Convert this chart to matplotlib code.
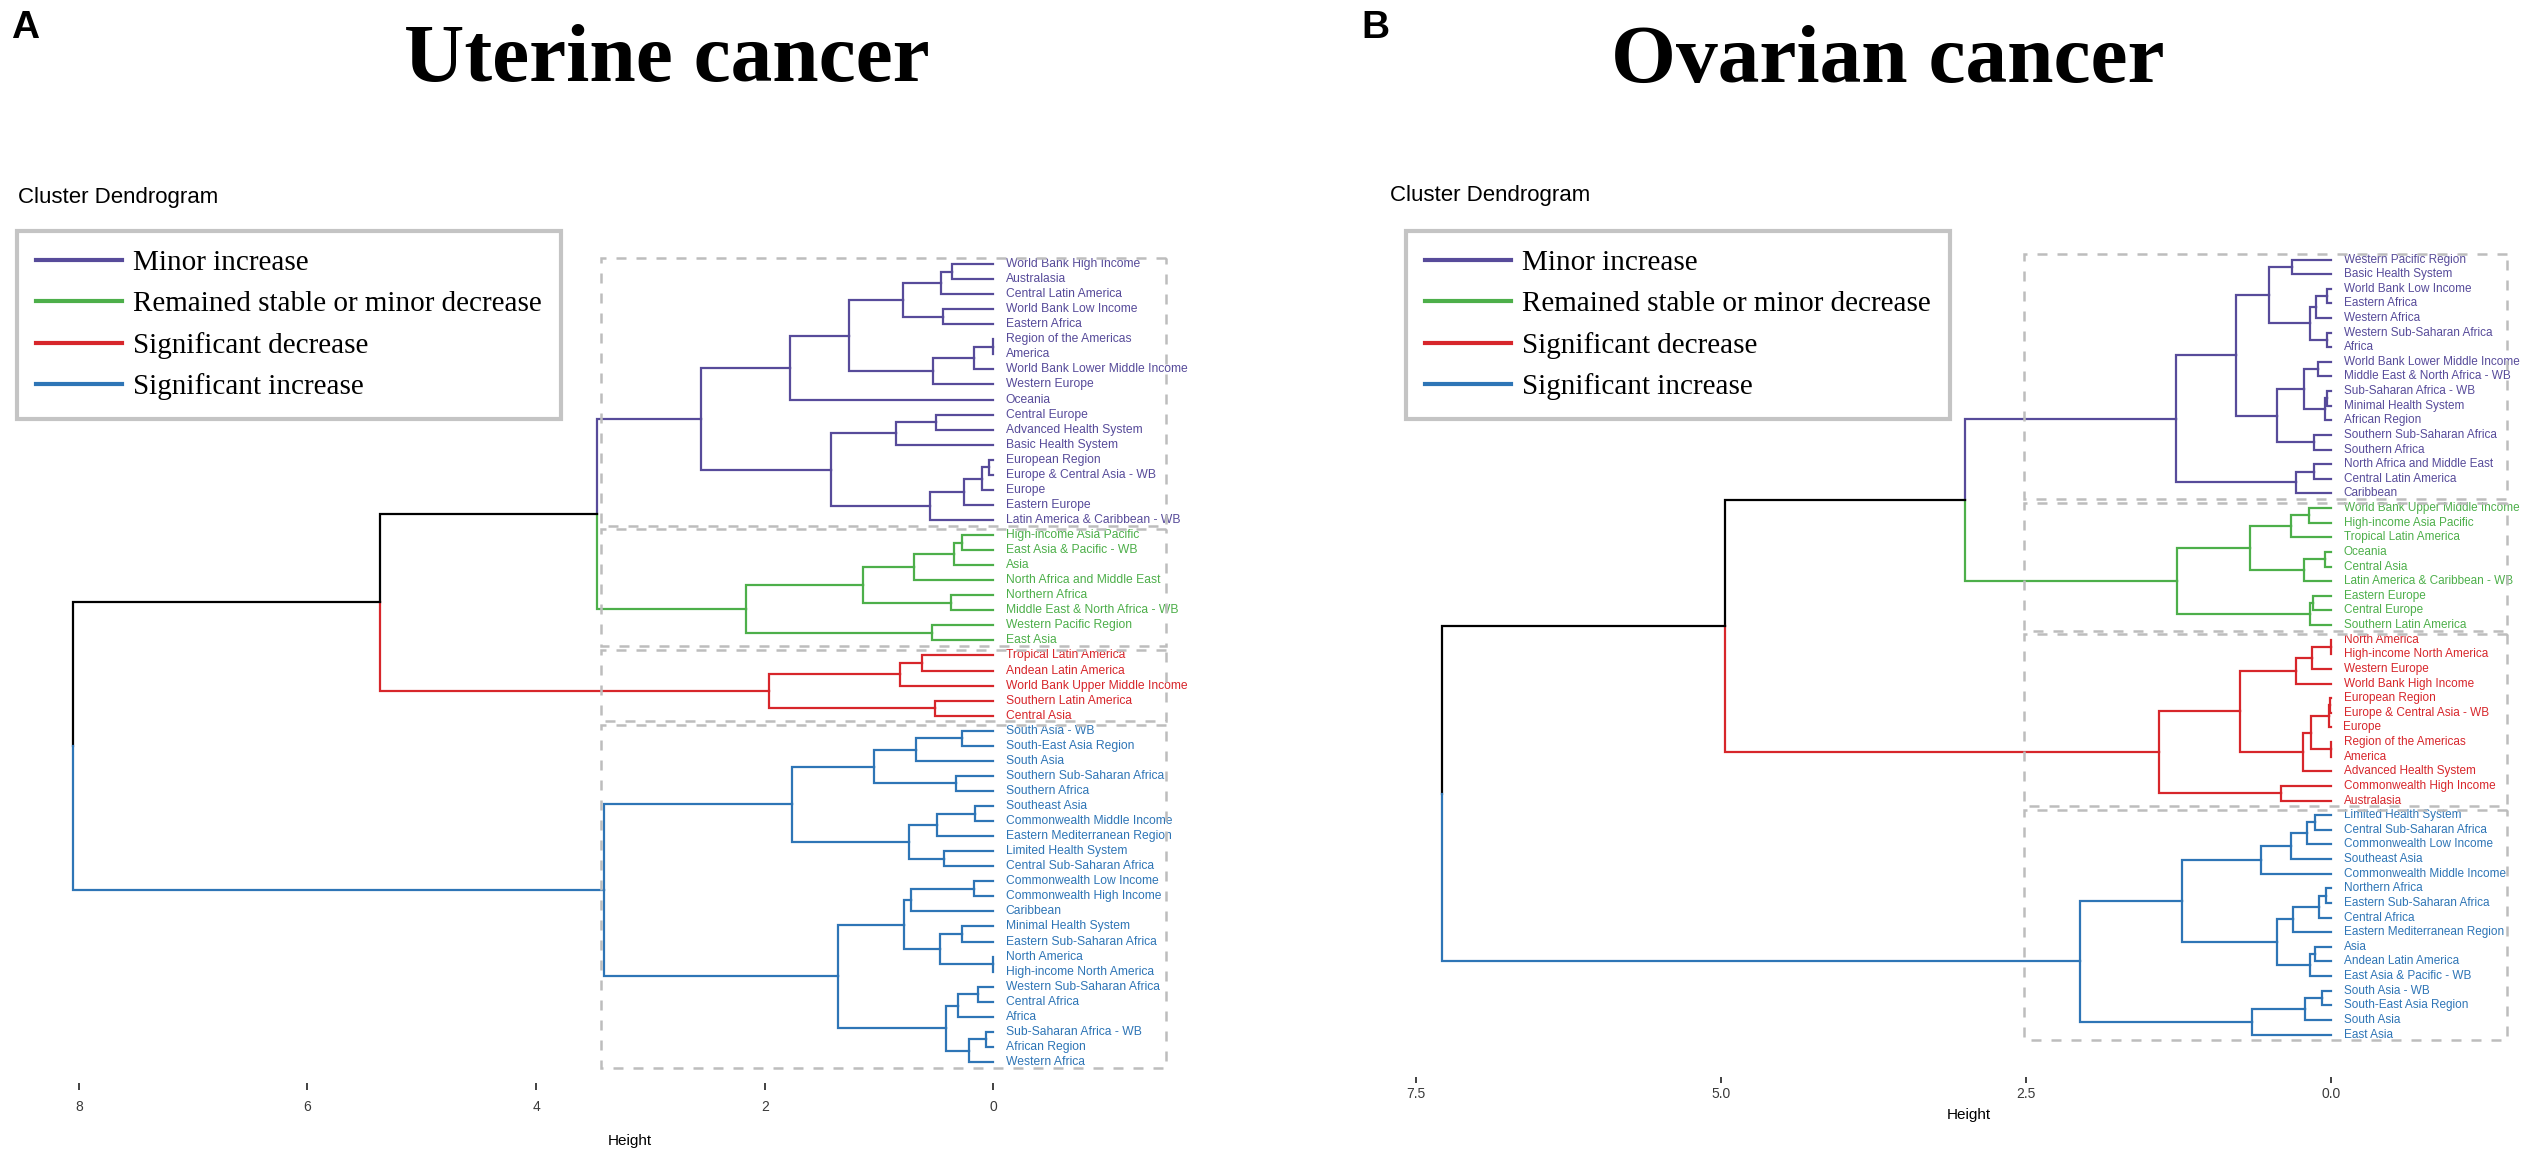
import matplotlib.pyplot as plt
from matplotlib.lines import Line2D
from matplotlib.patches import Rectangle

W, H = 2531, 1162

cluster_names = ["Minor increase", "Remained stable or minor decrease",
                 "Significant decrease", "Significant increase"]
cluster_colors = ["#574b9a", "#4daf4a", "#d7262b", "#2e75b6"]

# ---- Uterine cancer: trees as (height, upper, lower), leaves are names
ut_minor = (2.56,
            (1.78,
             (1.26,
              (0.79,
               (0.46, (0.36, "World Bank High Income", "Australasia"), "Central Latin America"),
               (0.44, "World Bank Low Income", "Eastern Africa")),
              (0.53,
               (0.17, (0.005, "Region of the Americas", "America"), "World Bank Lower Middle Income"),
               "Western Europe")),
             "Oceania"),
            (1.42,
             (0.85, (0.50, "Central Europe", "Advanced Health System"), "Basic Health System"),
             (0.55,
              (0.26, (0.10, (0.04, "European Region", "Europe & Central Asia - WB"), "Europe"),
               "Eastern Europe"),
              "Latin America & Caribbean - WB")))
ut_stable = (2.16,
             (1.14,
              (0.69,
               (0.34, (0.27, "High-income Asia Pacific", "East Asia & Pacific - WB"), "Asia"),
               "North Africa and Middle East"),
              (0.37, "Northern Africa", "Middle East & North Africa - WB")),
             (0.54, "Western Pacific Region", "East Asia"))
ut_decrease = (1.96,
               (0.82, (0.62, "Tropical Latin America", "Andean Latin America"),
                "World Bank Upper Middle Income"),
               (0.51, "Southern Latin America", "Central Asia"))
ut_increase = (3.41,
               (1.76,
                (1.04,
                 (0.68, (0.27, "South Asia - WB", "South-East Asia Region"), "South Asia"),
                 (0.33, "Southern Sub-Saharan Africa", "Southern Africa")),
                (0.74,
                 (0.49, (0.16, "Southeast Asia", "Commonwealth Middle Income"),
                  "Eastern Mediterranean Region"),
                 (0.43, "Limited Health System", "Central Sub-Saharan Africa"))),
               (1.36,
                (0.78,
                 (0.72, (0.17, "Commonwealth Low Income", "Commonwealth High Income"), "Caribbean"),
                 (0.47, (0.27, "Minimal Health System", "Eastern Sub-Saharan Africa"),
                  (0.005, "North America", "High-income North America"))),
                (0.41,
                 (0.31, (0.13, "Western Sub-Saharan Africa", "Central Africa"), "Africa"),
                 (0.21, (0.06, "Sub-Saharan Africa - WB", "African Region"), "Western Africa"))))
ut_top = (8.05, (5.37, (3.47, 0, 1), 2), 3)

# ---- Ovarian cancer
ov_minor = (1.27,
            (0.78,
             (0.51,
              (0.32, "Western Pacific Region", "Basic Health System"),
              (0.17,
               (0.12, (0.03, "World Bank Low Income", "Eastern Africa"), "Western Africa"),
               (0.03, "Western Sub-Saharan Africa", "Africa"))),
             (0.44,
              (0.22,
               (0.11, "World Bank Lower Middle Income", "Middle East & North Africa - WB"),
               (0.05, (0.03, "Sub-Saharan Africa - WB", "Minimal Health System"), "African Region")),
              (0.14, "Southern Sub-Saharan Africa", "Southern Africa"))),
            (0.29, (0.14, "North Africa and Middle East", "Central Latin America"), "Caribbean"))
ov_stable = (1.26,
             (0.66,
              (0.33, (0.18, "World Bank Upper Middle Income", "High-income Asia Pacific"),
               "Tropical Latin America"),
              (0.22, (0.05, "Oceania", "Central Asia"), "Latin America & Caribbean - WB")),
             (0.17, (0.15, "Eastern Europe", "Central Europe"), "Southern Latin America"))
ov_decrease = (1.41,
               (0.75,
                (0.29,
                 (0.155, (0.003, "North America", "High-income North America"), "Western Europe"),
                 "World Bank High Income"),
                (0.23,
                 (0.16,
                  (0.02, (0.005, "European Region", "Europe & Central Asia - WB"), "Europe"),
                  (0.003, "Region of the Americas", "America")),
                 "Advanced Health System")),
               (0.41, "Commonwealth High Income", "Australasia"))
ov_increase = (2.06,
               (1.22,
                (0.57,
                 (0.33,
                  (0.20, (0.13, "Limited Health System", "Central Sub-Saharan Africa"),
                   "Commonwealth Low Income"),
                  "Southeast Asia"),
                 "Commonwealth Middle Income"),
                (0.44,
                 (0.31,
                  (0.095, (0.04, "Northern Africa", "Eastern Sub-Saharan Africa"), "Central Africa"),
                  "Eastern Mediterranean Region"),
                 (0.17, (0.13, "Asia", "Andean Latin America"), "East Asia & Pacific - WB"))),
               (0.65,
                (0.215, (0.07, "South Asia - WB", "South-East Asia Region"), "South Asia"),
                "East Asia"))
ov_top = (7.29, (4.97, (3.0, 0, 1), 2), 3)

ut_ticks, ut_ticklabels = [8, 6, 4, 2, 0], ["8", "6", "4", "2", "0"]
ov_ticks, ov_ticklabels = [7.5, 5.0, 2.5, 0.0], ["7.5", "5.0", "2.5", "0.0"]


def draw_dendrogram(ax, top, clusters, label_size):
    leaves = []
    spans = {}

    def walk(node, color):
        if isinstance(node, int):
            first = len(leaves)
            out = walk(clusters[node], cluster_colors[node])
            spans[node] = (first, len(leaves) - 1)
            return out
        if isinstance(node, str):
            leaves.append((node, color))
            return len(leaves) - 1, 0.0, color
        h, a, b = node
        ya, ha, ca = walk(a, color)
        yb, hb, cb = walk(b, color)
        ym = (ya + yb) / 2
        ax.plot([ha, h, h], [ya, ya, ym], color=ca, lw=1.6, solid_joinstyle='miter')
        ax.plot([hb, h, h], [yb, yb, ym], color=cb, lw=1.6, solid_joinstyle='miter')
        return ym, h, color

    walk(top, "black")
    for i, (name, c) in enumerate(leaves):
        ax.annotate(name, (0, i), xytext=(9, 0), textcoords='offset points',
                    va='center', ha='left', color=c, fontsize=label_size,
                    family='Liberation Sans')
    return spans


def style_axis(ax, xlim, ylim, ticks, ticklabels, ticklen, tickpad, labelpad):
    ax.set_xlim(*xlim)
    ax.set_ylim(*ylim)
    for s in ax.spines.values():
        s.set_visible(False)
    ax.set_yticks([])
    ax.set_xticks(ticks)
    ax.set_xticklabels(ticklabels, family='Liberation Sans', fontsize=10, color='#3a3a3a')
    ax.tick_params(axis='x', length=ticklen, width=1.3, color='#333333', pad=tickpad)
    ax.set_xlabel("Height", family='Liberation Sans', fontsize=11, labelpad=labelpad)


fig = plt.figure(figsize=(W / 100, H / 100), dpi=100)

panels = [
    dict(top=ut_top, clusters=[ut_minor, ut_stable, ut_decrease, ut_increase],
         rect=(60, 240, 1200, 1083), leaf0=264, leafN=1062, xzero=993.3, unit=114.3,
         box=(3.43, -1.51), ticks=ut_ticks, ticklabels=ut_ticklabels, size=8.7,
         ticklen=5, tickpad=7, labelpad=15,
         letter="A", letter_x=11, title="Uterine cancer", title_x=667, sub_x=18, sub_y=197,
         legend=(17, 231)),
    dict(top=ov_top, clusters=[ov_minor, ov_stable, ov_decrease, ov_increase],
         rect=(1408, 240, 2530, 1077), leaf0=259.5, leafN=1034.5, xzero=2331, unit=122,
         box=(2.52, -1.44), ticks=ov_ticks, ticklabels=ov_ticklabels, size=8.5,
         ticklen=4, tickpad=3, labelpad=5,
         letter="B", letter_x=1361, title="Ovarian cancer", title_x=1888, sub_x=1390, sub_y=195,
         legend=(1406, 231)),
]

handles = [Line2D([], [], color=c, lw=3) for c in cluster_colors]

for p in panels:
    x0, y0, x1, y1 = p["rect"]
    ax = fig.add_axes([x0 / W, 1 - y1 / H, (x1 - x0) / W, (y1 - y0) / H])
    step = (p["leafN"] - p["leaf0"]) / 53
    ylim = ((y1 - p["leaf0"]) / step, (y0 - p["leaf0"]) / step)
    xlim = ((p["xzero"] - x0) / p["unit"], (p["xzero"] - x1) / p["unit"])
    spans = draw_dendrogram(ax, p["top"], p["clusters"], p["size"])
    style_axis(ax, xlim, ylim, p["ticks"], p["ticklabels"], p["ticklen"], p["tickpad"], p["labelpad"])
    bl, br = p["box"]
    for k, (a, b) in spans.items():
        ax.add_patch(Rectangle((br, a - 0.38), bl - br, (b - a) + 0.76, fill=False,
                               ls=(0, (4, 4)), lw=1.8, ec='#bdbdbd', zorder=3))

    fig.text(p["letter_x"] / W, 1 - 28 / H, p["letter"], family='Liberation Sans',
             weight='bold', fontsize=28, va='center', ha='left')
    fig.text(p["title_x"] / W, 1 - 62 / H, p["title"], family='Liberation Serif',
             weight='bold', fontsize=60, va='center', ha='center')
    fig.text(p["sub_x"] / W, 1 - p["sub_y"] / H, "Cluster Dendrogram", family='Liberation Sans',
             fontsize=16, va='center', ha='left')
    lx, ly = p["legend"]
    leg = fig.legend(handles, cluster_names, loc='upper left',
                     bbox_to_anchor=(lx / W, 1 - ly / H), bbox_transform=fig.transFigure,
                     frameon=True, fancybox=False, edgecolor='#c4c4c4', facecolor='white',
                     framealpha=1, prop={'family': 'Liberation Serif', 'size': 21},
                     handlelength=2.96, handletextpad=0.37, borderpad=0.65,
                     labelspacing=0.5, borderaxespad=0)
    leg.get_frame().set_linewidth(3)

fig.savefig("out.png", dpi=100, facecolor='white')
